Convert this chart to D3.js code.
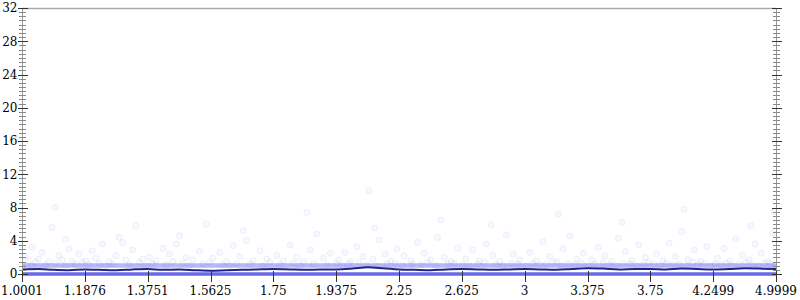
<!DOCTYPE html>
<html><head><meta charset="utf-8">
<script src="https://cdn.jsdelivr.net/npm/d3@7"></script>
<style>body{margin:0;background:#fff}svg{display:block}</style>
</head><body><svg id="c" width="800" height="300"></svg>
<script>
const xTickValues = [1.0001,1.1876,1.3751,1.5625,1.75,1.9375,2.25,2.625,3,3.375,3.75,4.2499,4.9999];
const xTickLabels = ["1.0001","1.1876","1.3751","1.5625","1.75","1.9375","2.25","2.625","3","3.375","3.75","4.2499","4.9999"];
const yTickValues = [0,4,8,12,16,20,24,28,32];
const yMinorStep = 0.5;

// dark moving line
const lineX = [1.0001,1.05,1.094,1.14,1.1876,1.23,1.281,1.33,1.3751,1.42,1.469,1.52,1.5625,1.61,1.656,1.70,1.75,1.80,1.844,1.89,1.9375,2.02,2.094,2.17,2.25,2.34,2.4375,2.53,2.625,2.72,2.8125,2.91,3,3.09,3.1875,3.28,3.375,3.47,3.5625,3.66,3.75,3.87,4.0,4.12,4.2499,4.44,4.625,4.81,4.9999];
const lineY = [0.55,0.6,0.5,0.45,0.55,0.5,0.45,0.55,0.6,0.5,0.55,0.45,0.4,0.45,0.5,0.55,0.6,0.55,0.5,0.55,0.55,0.65,0.8,0.7,0.55,0.5,0.45,0.55,0.6,0.55,0.5,0.55,0.6,0.55,0.5,0.6,0.7,0.65,0.55,0.6,0.6,0.55,0.65,0.6,0.55,0.6,0.7,0.65,0.6];

// band of dense values around 1
const bandX = [1.0001,4.9999];
const bandLo = [0.75,0.75];
const bandHi = [1.3,1.3];

// dense values at 0
const zeroX = [1.0001,4.9999];
const zeroY = [0,0];

// individual observations
const points = [
[1.01,2.1],[1.02,1.6],[1.03,3.2],[1.05,1.8],[1.06,2.6],[1.08,1.5],[1.09,5.6],[1.11,2.2],[1.12,1.7],[1.14,3.0],[1.15,1.5],[1.17,2.4],[1.10,8.0],[1.13,4.2],
[1.19,1.6],[1.21,2.8],[1.22,1.9],[1.24,3.6],[1.26,1.5],[1.28,2.2],[1.29,4.4],[1.31,1.7],[1.33,2.9],[1.34,5.8],[1.36,1.8],[1.30,3.8],
[1.38,2.0],[1.40,1.6],[1.42,3.1],[1.44,2.4],[1.45,1.5],[1.47,4.6],[1.49,2.0],[1.51,1.7],[1.53,2.7],[1.55,6.0],[1.46,3.6],
[1.57,1.9],[1.59,2.6],[1.61,1.5],[1.63,3.4],[1.65,2.1],[1.67,4.0],[1.69,1.6],[1.71,2.8],[1.73,1.8],[1.66,5.2],
[1.76,2.2],[1.78,1.6],[1.80,3.5],[1.82,2.0],[1.84,1.5],[1.86,2.9],[1.88,4.8],[1.90,1.9],[1.92,2.5],[1.85,7.4],
[1.95,1.7],[1.98,2.6],[2.01,1.5],[2.04,3.3],[2.07,2.1],[2.10,10.0],[2.12,1.8],[2.15,4.1],[2.18,2.4],[2.21,1.6],[2.24,3.0],[2.13,5.5],
[2.28,2.2],[2.32,1.6],[2.36,3.8],[2.40,2.5],[2.44,1.7],[2.48,4.4],[2.52,2.0],[2.56,1.5],[2.60,3.1],[2.50,6.5],
[2.65,1.8],[2.69,2.9],[2.73,1.6],[2.77,3.6],[2.81,2.2],[2.85,1.5],[2.89,4.7],[2.93,2.4],[2.97,1.7],[2.80,5.9],
[3.03,2.6],[3.07,1.6],[3.11,3.9],[3.15,2.1],[3.19,1.5],[3.23,3.0],[3.27,4.6],[3.31,1.8],[3.35,2.5],[3.20,7.2],
[3.40,1.7],[3.44,3.2],[3.48,2.2],[3.52,1.5],[3.56,4.3],[3.60,2.7],[3.64,1.6],[3.68,3.5],[3.72,2.0],[3.58,6.2],
[3.80,2.4],[3.85,1.6],[3.90,3.7],[3.95,2.1],[4.00,5.1],[4.05,1.7],[4.10,2.9],[4.15,1.5],[4.20,3.3],[4.02,7.8],
[4.30,1.9],[4.38,3.1],[4.45,1.6],[4.52,4.2],[4.60,2.3],[4.68,1.7],[4.75,3.6],[4.82,2.5],[4.90,1.5],[4.96,4.9],[4.98,7.5],[4.70,5.8],
[1.00,1.2],[1.03,1.0],[1.04,1.4],[1.07,1.1],[1.10,1.3],[1.13,1.0],[1.16,1.2],[1.18,1.4],[1.20,1.1],[1.23,1.3],[1.25,1.0],[1.27,1.2],[1.32,1.1],[1.35,1.4],[1.37,1.0],[1.39,1.2],[1.43,1.1],[1.48,1.3],[1.50,1.0],[1.54,1.2],[1.56,1.4],[1.60,1.1],[1.62,1.0],[1.64,1.3],[1.68,1.2],[1.72,1.0],[1.74,1.4],[1.77,1.1],[1.81,1.3],[1.83,1.0],[1.87,1.2],[1.91,1.1],[1.94,1.3],[1.97,1.0],[2.00,1.2],[2.05,1.4],[2.09,1.1],[2.14,1.0],[2.19,1.2],[2.23,1.3],[2.27,1.0],[2.33,1.2],[2.38,1.1],[2.42,1.4],[2.47,1.0],[2.54,1.2],[2.58,1.3],[2.63,1.1],[2.67,1.0],[2.72,1.2],[2.76,1.4],[2.83,1.1],[2.87,1.0],[2.92,1.3],[2.96,1.2],[3.01,1.0],[3.05,1.3],[3.09,1.1],[3.13,1.2],[3.17,1.4],[3.22,1.0],[3.26,1.2],[3.30,1.1],[3.34,1.3],[3.38,1.0],[3.42,1.2],[3.47,1.4],[3.51,1.1],[3.55,1.0],[3.59,1.3],[3.63,1.2],[3.67,1.0],[3.71,1.1],[3.74,1.4],[3.78,1.2],[3.83,1.0],[3.88,1.3],[3.93,1.1],[3.98,1.2],[4.04,1.0],[4.09,1.4],[4.13,1.1],[4.18,1.3],[4.23,1.0],[4.27,1.2],[4.34,1.1],[4.41,1.3],[4.48,1.0],[4.56,1.2],[4.64,1.4],[4.72,1.1],[4.79,1.0],[4.86,1.3],[4.93,1.2],[4.99,1.1]
];

const L = 22, R = 776, T = 8, B = 274;
const svg = d3.select("#c");
const x = d3.scaleLinear().domain(xTickValues)
  .range(xTickValues.map((d,i)=> L + i*(R-L)/(xTickValues.length-1)));
const y = d3.scaleLinear().domain([0,32]).range([B,T]);

svg.append("defs").append("clipPath").attr("id","clip")
  .append("rect").attr("x",L).attr("y",T).attr("width",R-L).attr("height",B-T+2);

const plot = svg.append("g").attr("clip-path","url(#clip)");

// band around 1
plot.append("path")
  .datum(bandX.map((d,i)=>[d,bandLo[i],bandHi[i]]))
  .attr("d", d3.area().x(d=>x(d[0])).y0(d=>y(d[1])).y1(d=>y(d[2])))
  .attr("fill","#9a9af2").attr("opacity",0.7);

// points
plot.append("g").selectAll("circle").data(points).join("circle")
  .attr("cx",d=>x(d[0])).attr("cy",d=>y(d[1])).attr("r",3)
  .attr("fill","#4040ff").attr("fill-opacity",0.035)
  .attr("stroke","#5a5aff").attr("stroke-opacity",0.09).attr("stroke-width",1);

// zero series
plot.append("path")
  .datum(zeroX.map((d,i)=>[d,zeroY[i]]))
  .attr("d", d3.line().x(d=>x(d[0])).y(d=>y(d[1])))
  .attr("stroke","#6a6ae8").attr("stroke-width",3.5).attr("fill","none");

// dark line
plot.append("path")
  .datum(lineX.map((d,i)=>[d,lineY[i]]))
  .attr("d", d3.line().curve(d3.curveMonotoneX).x(d=>x(d[0])).y(d=>y(d[1])))
  .attr("stroke","#22228c").attr("stroke-width",2).attr("fill","none");

// frame top
svg.append("line").attr("x1",L).attr("x2",R).attr("y1",T+0.5).attr("y2",T+0.5)
  .attr("stroke","#aaa").attr("stroke-width",1.5);

// y axes
const minor = d3.range(0,32+1e-9,yMinorStep).filter(v=>v%4!==0);
[L,R].forEach((px,side)=>{
  const g = svg.append("g");
  g.append("line").attr("x1",px+0.5).attr("x2",px+0.5).attr("y1",T).attr("y2",B+3)
    .attr("stroke","#999").attr("stroke-width",1);
  g.selectAll(".mn").data(minor).join("line")
    .attr("x1",px-3).attr("x2",px+4).attr("y1",d=>Math.round(y(d))+0.5).attr("y2",d=>Math.round(y(d))+0.5)
    .attr("stroke","#888").attr("stroke-width",1);
  g.selectAll(".mj").data(yTickValues).join("line")
    .attr("x1",px-4).attr("x2",px+6).attr("y1",d=>Math.round(y(d))+0.5).attr("y2",d=>Math.round(y(d))+0.5)
    .attr("stroke","#333").attr("stroke-width",1);
  if(side===0){
    g.selectAll("text").data(yTickValues).join("text")
      .attr("x",px-4.5).attr("y",d=>y(d)).attr("dy","0.36em")
      .attr("text-anchor","end").attr("font-family","DejaVu Serif").attr("font-size",12)
      .attr("fill","#000").text(d=>d);
  }
});

// x axis
const xg = svg.append("g");
xg.selectAll("line").data(xTickValues).join("line")
  .attr("x1",d=>Math.round(x(d))+0.5).attr("x2",d=>Math.round(x(d))+0.5)
  .attr("y1",B-3).attr("y2",B+8).attr("stroke","#333").attr("stroke-width",1);
xg.selectAll("text").data(xTickValues).join("text")
  .attr("x",d=>x(d)).attr("y",B+21)
  .attr("text-anchor","middle").attr("font-family","DejaVu Serif").attr("font-size",12)
  .attr("fill","#000").text((d,i)=>xTickLabels[i]);
</script></body></html>
